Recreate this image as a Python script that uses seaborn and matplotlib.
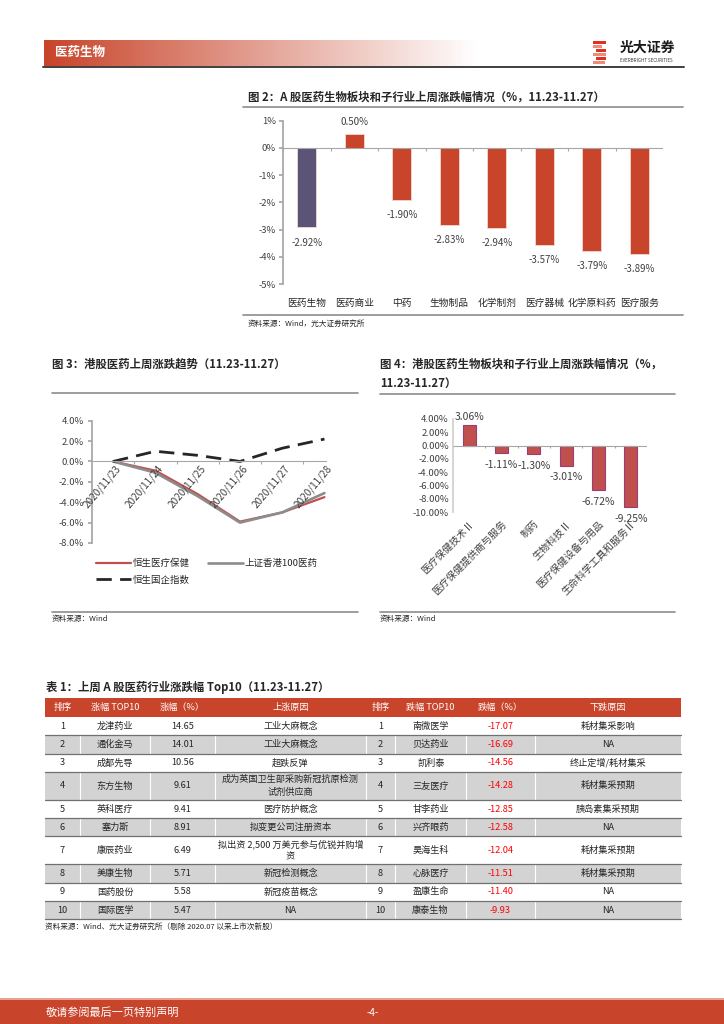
import numpy as np
import pandas as pd
import seaborn as sns
import matplotlib.pyplot as plt
from matplotlib.patches import Rectangle
from matplotlib.lines import Line2D

# -------------------------------------------------------------------
# Data
# -------------------------------------------------------------------

# Fig 2: A-share pharma sector and sub-sectors, weekly change (%)
a_sectors = ['医药生物', '医药商业', '中药', '生物制品', '化学制剂', '医疗器械', '化学原料药', '医疗服务']
a_change = [-2.92, 0.50, -1.90, -2.83, -2.94, -3.57, -3.79, -3.89]

# Fig 3: HK pharma trend (%)
hk_dates = ['2020/11/23', '2020/11/24', '2020/11/25', '2020/11/26', '2020/11/27', '2020/11/28']
hs_health = [0.0, -0.9, -3.2, -5.9, -5.0, -3.5]
sz_hk100 = [0.0, -1.1, -3.4, -6.0, -5.0, -3.1]
hs_china = [0.0, 1.0, 0.6, 0.0, 1.3, 2.2]
trend_names = ['恒生医疗保健', '上证香港100医药', '恒生国企指数']

# Fig 4: HK pharma sub-sectors weekly change (%)
hk_sectors = ['医疗保健技术Ⅱ', '医疗保健提供商与服务', '制药', '生物科技Ⅱ', '医疗保健设备与用品', '生命科学工具和服务Ⅱ']
hk_change = [3.06, -1.11, -1.30, -3.01, -6.72, -9.25]

# Table 1: top10 gainers / losers
rank = list(range(1, 11))
up_names = ['龙津药业', '通化金马', '成都先导', '东方生物', '英科医疗', '塞力斯', '康辰药业', '美康生物', '国药股份', '国际医学']
up_pct = ['14.65', '14.01', '10.56', '9.61', '9.41', '8.91', '6.49', '5.71', '5.58', '5.47']
up_reason = ['工业大麻概念', '工业大麻概念', '超跌反弹', '成为英国卫生部采购新冠抗原检测\n试剂供应商', '医疗防护概念',
             '拟变更公司注册资本', '拟出资 2,500 万美元参与优锐并购增\n资', '新冠检测概念', '新冠疫苗概念', 'NA']
down_names = ['南微医学', '贝达药业', '凯利泰', '三友医疗', '甘李药业', '兴齐眼药', '昊海生科', '心脉医疗', '盈康生命', '康泰生物']
down_pct = ['-17.07', '-16.69', '-14.56', '-14.28', '-12.85', '-12.58', '-12.04', '-11.51', '-11.40', '-9.93']
down_reason = ['耗材集采影响', 'NA', '终止定增/耗材集采', '耗材集采预期', '胰岛素集采预期', 'NA', '耗材集采预期', '耗材集采预期', 'NA', 'NA']
table_header = ['排序', '涨幅 TOP10', '涨幅（%）', '上涨原因', '排序', '跌幅 TOP10', '跌幅（%）', '下跌原因']

# -------------------------------------------------------------------
# Style
# -------------------------------------------------------------------

sns.set_theme(style='white')
plt.rcParams['font.family'] = ['Noto Sans CJK SC', 'DejaVu Sans']
plt.rcParams['axes.unicode_minus'] = False

RED = '#C8442A'
BAR_RED = '#C0504D'
GRAY_LINE = '#8C8C8C'
TXT = '#262626'

W, H = 724, 1024
fig = plt.figure(figsize=(W / 100, H / 100), dpi=100)


def px_axes(x0, y0, x1, y1):
    """Axes placed by page pixel box (top-left origin)."""
    a = fig.add_axes([x0 / W, 1 - y1 / H, (x1 - x0) / W, (y1 - y0) / H])
    a.set_facecolor('none')
    return a


# page layer for header, footer, titles and the table
page = fig.add_axes([0, 0, 1, 1])
page.set_xlim(0, W)
page.set_ylim(H, 0)
page.axis('off')

# header gradient bar
c0 = np.array([200, 68, 42]) / 255
t = np.linspace(0, 1, 300)[None, :, None]
grad = c0 * (1 - t) + np.ones(3) * t
page.imshow(grad, extent=[44, 478, 66, 40], aspect='auto', zorder=0)
page.set_xlim(0, W)
page.set_ylim(H, 0)
page.text(55, 52.5, '医药生物', color='white', fontsize=9, fontweight='bold', va='center')
page.plot([43, 684], [67, 67], color='#3F3F3F', lw=1.4)

# logo
stripes = [(593, 41, 13), (593, 45, 9), (596, 49, 10), (593, 53, 13), (596, 57, 10), (593, 61, 12)]
for i, (x, y, w) in enumerate(stripes):
    page.add_patch(Rectangle((x, y), w, 3, color=['#E0301E', '#F08A7A'][i % 2], lw=0))
page.text(620, 48, '光大证券', fontsize=10, fontweight='bold', color='#1A1A1A', va='center')
page.text(620, 60, 'EVERBRIGHT SECURITIES', fontsize=3.2, color='#333333', va='center')

# footer
page.add_patch(Rectangle((0, 998), W, 1.5, color='#E8A090', lw=0))
page.add_patch(Rectangle((0, 999.5), W, 24.5, color=RED, lw=0))
page.text(46, 1013, '敬请参阅最后一页特别声明', color='white', fontsize=8, va='center')
page.text(367, 1013, '-4-', color='white', fontsize=7, va='center')

# -------------------------------------------------------------------
# Fig 2
# -------------------------------------------------------------------
page.text(248, 97.5, '图 2：A 股医药生物板块和子行业上周涨跌幅情况（%，11.23-11.27）',
          fontsize=8.2, fontweight='bold', color=TXT, va='center')
page.plot([243, 683], [107, 107], color=GRAY_LINE, lw=1.2)
page.plot([243, 683], [315, 315], color=GRAY_LINE, lw=1.2)
page.text(248, 324, '资料来源：Wind，光大证券研究所', fontsize=5.5, color=TXT, va='center')

ax2 = px_axes(283, 120.7, 663, 284)
df2 = pd.DataFrame({'sector': a_sectors, 'chg': a_change})
sns.barplot(data=df2, x='sector', y='chg', hue='sector', palette=['#5B5476'] + [RED] * 7,
            width=0.4, legend=False, ax=ax2, edgecolor='#F4D9D2', linewidth=0.6, saturation=1)
ax2.set_ylim(-5, 1)
ax2.set_xlim(-0.5, 7.5)
ax2.set_yticks(range(-5, 2))
ax2.set_yticklabels([f'{v}%' for v in range(-5, 2)])
ax2.set_xlabel('')
ax2.set_ylabel('')
for s in ['top', 'right', 'bottom']:
    ax2.spines[s].set_visible(False)
ax2.spines['left'].set_color('#A6A6A6')
ax2.tick_params(axis='y', length=3, color='#A6A6A6', labelsize=6.8, labelcolor='#404040', left=True, pad=2)
ax2.tick_params(axis='x', length=0, labelsize=7, labelcolor=TXT, pad=10)
ax2.axhline(0, color='#A6A6A6', lw=0.8)
ax2.vlines(np.arange(-0.5, 8, 1), -0.13, 0, color='#A6A6A6', lw=0.8)
for i, v in enumerate(a_change):
    off = 9 if v > 0 else -11
    ax2.annotate(f'{v:.2f}%', (i, v), xytext=(0, off), textcoords='offset points',
                 ha='center', va='center', fontsize=7, color='#404040')

# -------------------------------------------------------------------
# Fig 3
# -------------------------------------------------------------------
page.text(52, 364, '图 3：港股医药上周涨跌趋势（11.23-11.27）', fontsize=8.2, fontweight='bold', color=TXT, va='center')
page.plot([52, 358], [393, 393], color=GRAY_LINE, lw=1.2)
page.plot([52, 358], [612, 612], color=GRAY_LINE, lw=1.2)
page.text(52, 619, '资料来源：Wind', fontsize=5.5, color=TXT, va='center')

ax3 = px_axes(92, 420.7, 327, 543)
df3 = pd.DataFrame({'pos': np.arange(len(hk_dates)), 'a': hs_health, 'b': sz_hk100, 'c': hs_china})
sns.lineplot(data=df3, x='pos', y='a', color='#C0504D', lw=1.6, ax=ax3)
sns.lineplot(data=df3, x='pos', y='b', color='#8C8C8C', lw=1.9, ax=ax3)
sns.lineplot(data=df3, x='pos', y='c', color='#262626', lw=2.0, ax=ax3, linestyle=(0, (5.5, 3)))
ax3.set_ylim(-8, 4)
ax3.set_xlim(-0.5, 5.06)
ax3.set_yticks(range(-8, 5, 2))
ax3.set_yticklabels([f'{v:.1f}%' for v in range(-8, 5, 2)])
ax3.set_xticks([])
ax3.set_xlabel('')
ax3.set_ylabel('')
for s in ['top', 'right', 'bottom']:
    ax3.spines[s].set_visible(False)
ax3.spines['left'].set_color('#A6A6A6')
ax3.tick_params(axis='y', length=3, color='#A6A6A6', labelsize=6.8, labelcolor='#404040', left=True, pad=3)
ax3.axhline(0, color='#A6A6A6', lw=0.8)
ax3.vlines(np.arange(0.5, 5.5, 1), -0.25, 0, color='#A6A6A6', lw=0.8)
for i, d in enumerate(hk_dates):
    ax3.text(i + 0.05, -0.15, d, rotation=50, ha='right', va='top', rotation_mode='anchor',
             fontsize=7.2, color='#404040')
handles = [Line2D([], [], color='#C0504D', lw=1.6),
           Line2D([], [], color='#262626', lw=2.0, linestyle=(0, (5.5, 3))),
           Line2D([], [], color='#8C8C8C', lw=1.9)]
ax3.legend(handles, [trend_names[0], trend_names[2], trend_names[1]], ncol=2, frameon=False,
           loc='upper left', bbox_to_anchor=(96 / W, 1 - 559 / H), bbox_transform=fig.transFigure,
           fontsize=6.8, handlelength=3.7, handletextpad=0.15, columnspacing=2.0, labelspacing=0.75,
           borderaxespad=0, borderpad=0)

# -------------------------------------------------------------------
# Fig 4
# -------------------------------------------------------------------
page.text(380, 364, '图 4：港股医药生物板块和子行业上周涨跌幅情况（%，', fontsize=8.2, fontweight='bold',
          color=TXT, va='center')
page.text(380, 383, '11.23-11.27）', fontsize=8.2, fontweight='bold', color=TXT, va='center')
page.plot([380, 675], [394, 394], color=GRAY_LINE, lw=1.2)
page.plot([380, 675], [612, 612], color=GRAY_LINE, lw=1.2)
page.text(380, 619, '资料来源：Wind', fontsize=5.5, color=TXT, va='center')

ax4 = px_axes(453, 419, 647, 512)
df4 = pd.DataFrame({'sector': hk_sectors, 'chg': hk_change})
sns.barplot(data=df4, x='sector', y='chg', color=BAR_RED, width=0.41, ax=ax4,
            edgecolor='#9B3B7A', linewidth=0.8, saturation=1)
ax4.set_ylim(-10, 4)
ax4.set_xlim(-0.5, 5.5)
ax4.set_yticks(range(-10, 5, 2))
ax4.set_yticklabels([f'{v:.2f}%' for v in range(-10, 5, 2)])
ax4.set_xlabel('')
ax4.set_ylabel('')
ax4.set_xticks(range(len(hk_sectors)))
ax4.set_xticklabels(hk_sectors, rotation=45, ha='right', rotation_mode='anchor')
for s in ['top', 'right', 'bottom']:
    ax4.spines[s].set_visible(False)
ax4.spines['left'].set_color('#D0D0D0')
ax4.tick_params(axis='y', length=0, labelsize=6.8, labelcolor='#404040', pad=3)
ax4.tick_params(axis='x', length=0, labelsize=7.2, labelcolor='#404040', pad=5)
ax4.axhline(0, color='#A6A6A6', lw=0.8)
ax4.vlines(np.arange(-0.5, 6, 1), -0.35, 0, color='#A6A6A6', lw=0.8)
for i, v in enumerate(hk_change):
    off = 6 if v > 0 else -8.5
    ax4.annotate(f'{v:.2f}%', (i, v), xytext=(0, off), textcoords='offset points',
                 ha='center', va='center', fontsize=7.5, color='#404040')

# -------------------------------------------------------------------
# Table 1
# -------------------------------------------------------------------
page.text(46, 688, '表 1：上周 A 股医药行业涨跌幅 Top10（11.23-11.27）', fontsize=8.2, fontweight='bold',
          color=TXT, va='center')
col_edges = [45, 80, 150, 215, 366, 395, 466, 535, 681]
centers = [(col_edges[i] + col_edges[i + 1]) / 2 for i in range(8)]

y = 698
page.add_patch(Rectangle((45, y), 636, 19, color=RED, lw=0))
for cx, h in zip(centers, table_header):
    page.text(cx, y + 9.5, h, color='white', fontsize=6.6, ha='center', va='center')
y = 717
for r in range(10):
    cells = [str(rank[r]), up_names[r], up_pct[r], up_reason[r],
             str(rank[r]), down_names[r], down_pct[r], down_reason[r]]
    nlines = max(c.count('\n') + 1 for c in cells)
    h = 18.3 if nlines == 1 else 28
    if r % 2 == 1:
        page.add_patch(Rectangle((45, y), 636, h, color='#D3D3D3', lw=0))
        page.vlines(col_edges[1:-1], y, y + h, color='white', lw=0.8)
        page.plot([45, 681], [y, y], color='#707070', lw=0.9)
        page.plot([45, 681], [y + h, y + h], color='#707070', lw=0.9)
    for j, (cx, c) in enumerate(zip(centers, cells)):
        color = '#FF0000' if j == 6 else TXT
        page.text(cx, y + h / 2, c, color=color, fontsize=6.6, ha='center', va='center',
                  linespacing=1.45)
    y += h

page.text(45, 927, '资料来源：Wind、光大证券研究所（剔除 2020.07 以来上市次新股）', fontsize=5.5, color=TXT, va='center')

plt.savefig('out.png', dpi=100)
